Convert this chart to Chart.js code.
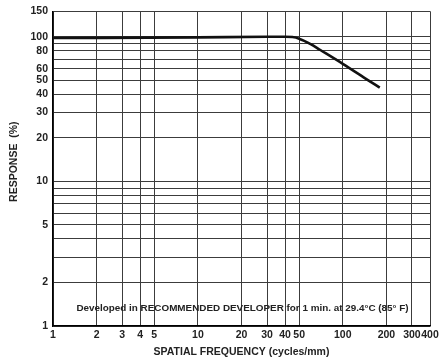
<!DOCTYPE html>
<html>
<head>
<meta charset="utf-8">
<script src="https://cdn.jsdelivr.net/npm/chart.js@4/dist/chart.umd.min.js"></script>
<style>
  html, body { margin: 0; padding: 0; background: #fff; }
  #wrap { width: 440px; height: 362px; position: relative; }
</style>
</head>
<body>
<div id="wrap"><canvas id="chart"></canvas></div>
<script>
// MTF curve
const freq = [1, 10, 30, 40, 45, 50, 60, 70, 100, 150, 180];
const response = [98, 99, 100, 100, 99.5, 97, 89, 81, 65, 50, 44.5];

// axis ticks
const xTicks = [1, 2, 3, 4, 5, 10, 20, 30, 40, 50, 100, 200, 300, 400];
const yGrid = [1, 2, 3, 4, 5, 6, 7, 8, 9, 10, 20, 30, 40, 50, 60, 70, 80, 90, 100, 150];
const yLabels = [1, 2, 5, 10, 20, 30, 40, 50, 60, 80, 100, 150];

const note = "Developed in RECOMMENDED DEVELOPER for 1 min. at 29.4\u00B0C (85\u00B0 F)";
const yTitle = "RESPONSE  (%)";

const FONT = '"Liberation Sans", Arial, sans-serif';
const gridColor = "#3c3c3c";

// note inside the plot + the y title (drawn by hand so it can sit a bit higher)
const notePlugin = {
  id: "note",
  afterDatasetsDraw(chart) {
    const { ctx, chartArea } = chart;
    ctx.save();
    ctx.font = "bold 9.9px " + FONT;
    ctx.fillStyle = "#222";
    ctx.textAlign = "center";
    ctx.textBaseline = "middle";
    ctx.fillText(note, (chartArea.left + chartArea.right) / 2 + 1, chartArea.bottom - 18);

    ctx.font = "bold 10.5px " + FONT;
    ctx.translate(14, (chartArea.top + chartArea.bottom) / 2 - 7);
    ctx.rotate(-Math.PI / 2);
    ctx.fillText(yTitle, 0, 0);
    ctx.restore();
  }
};

new Chart(document.getElementById("chart"), {
  type: "line",
  data: {
    datasets: [{
      data: freq.map((f, i) => ({ x: f, y: response[i] })),
      borderColor: "#111",
      borderWidth: 2.6,
      pointRadius: 0,
      cubicInterpolationMode: "monotone",
      fill: false
    }]
  },
  options: {
    responsive: true,
    maintainAspectRatio: false,
    animation: false,
    layout: { padding: { left: 0, right: 10, top: 9, bottom: 0 } },
    plugins: {
      legend: { display: false },
      tooltip: { enabled: false }
    },
    scales: {
      x: {
        type: "logarithmic",
        min: 1,
        max: 400,
        afterBuildTicks: (s) => { s.ticks = xTicks.map(v => ({ value: v })); },
        afterFit: (s) => { s.height = 36; s.paddingLeft = 0; s.paddingRight = 0; },
        grid: { color: gridColor, lineWidth: 1, drawTicks: false },
        border: { display: true, color: "#000", width: 1.5 },
        ticks: {
          autoSkip: false,
          maxRotation: 0,
          padding: 3,
          color: "#222",
          font: { family: FONT, size: 10.5, weight: "bold" },
          callback: (v) => String(v)
        },
        title: {
          display: true,
          text: "SPATIAL FREQUENCY (cycles/mm)",
          color: "#222",
          font: { family: FONT, size: 10.5, weight: "bold" },
          padding: { top: 0, bottom: 4 }
        }
      },
      y: {
        type: "logarithmic",
        min: 1,
        max: 150,
        afterBuildTicks: (s) => { s.ticks = yGrid.map(v => ({ value: v })); },
        afterFit: (s) => { s.width = 53; },
        grid: { color: gridColor, lineWidth: 1, drawTicks: false },
        border: { display: true, color: "#000", width: 1.5 },
        ticks: {
          autoSkip: false,
          padding: 5,
          color: "#222",
          font: { family: FONT, size: 10.5, weight: "bold" },
          callback: (v) => yLabels.includes(v) ? String(v) : ""
        }
      }
    }
  },
  plugins: [notePlugin]
});
</script>
</body>
</html>
